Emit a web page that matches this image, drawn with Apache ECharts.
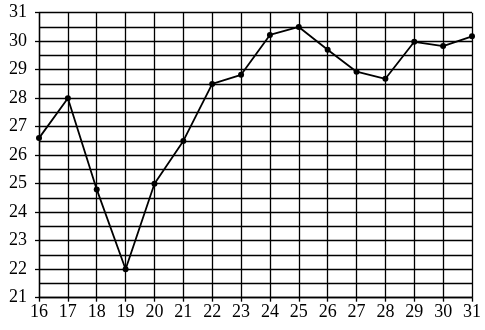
<!DOCTYPE html>
<html>
<head>
<meta charset="utf-8">
<script src="https://cdn.jsdelivr.net/npm/echarts@6/dist/echarts.min.js"></script>
<style>
html,body{margin:0;padding:0;background:#fff;}
#chart{width:485px;height:330px;}
</style>
</head>
<body>
<div id="chart"></div>
<script>
var days = [16, 17, 18, 19, 20, 21, 22, 23, 24, 25, 26, 27, 28, 29, 30, 31];
var temps = [26.6, 28.0, 24.8, 22.0, 25.0, 26.5, 28.5, 28.82, 30.22, 30.5, 29.7, 28.93, 28.68, 29.98, 29.83, 30.17];

var chart = echarts.init(document.getElementById('chart'));
var labelFont = {color: '#000', fontFamily: '"Liberation Serif", "Times New Roman", serif', fontSize: 18};
chart.setOption({
  animation: false,
  backgroundColor: '#fff',
  grid: {left: 39, right: 13, top: 12.7, bottom: 32.3, containLabel: false},
  xAxis: {
    type: 'value', min: 16, max: 31, interval: 1,
    axisLine: {show: true, lineStyle: {color: '#000', width: 1.3}},
    axisTick: {show: true, length: 4, lineStyle: {color: '#000', width: 1.3}},
    axisLabel: Object.assign({margin: 6}, labelFont),
    splitLine: {show: true, lineStyle: {color: '#000', width: 1.3}}
  },
  yAxis: {
    type: 'value', min: 21, max: 31, interval: 1,
    axisLine: {show: true, lineStyle: {color: '#000', width: 1.3}},
    axisTick: {show: true, length: 4, lineStyle: {color: '#000', width: 1.3}},
    axisLabel: Object.assign({margin: 12}, labelFont),
    splitLine: {show: true, lineStyle: {color: '#000', width: 1.3}},
    minorTick: {show: false, splitNumber: 2},
    minorSplitLine: {show: true, lineStyle: {color: '#000', width: 1.3}}
  },
  series: [{
    type: 'line',
    data: days.map(function (d, i) { return [d, temps[i]]; }),
    symbol: 'circle', symbolSize: 6,
    itemStyle: {color: '#000'},
    lineStyle: {color: '#000', width: 1.8}
  }]
});
</script>
</body>
</html>
